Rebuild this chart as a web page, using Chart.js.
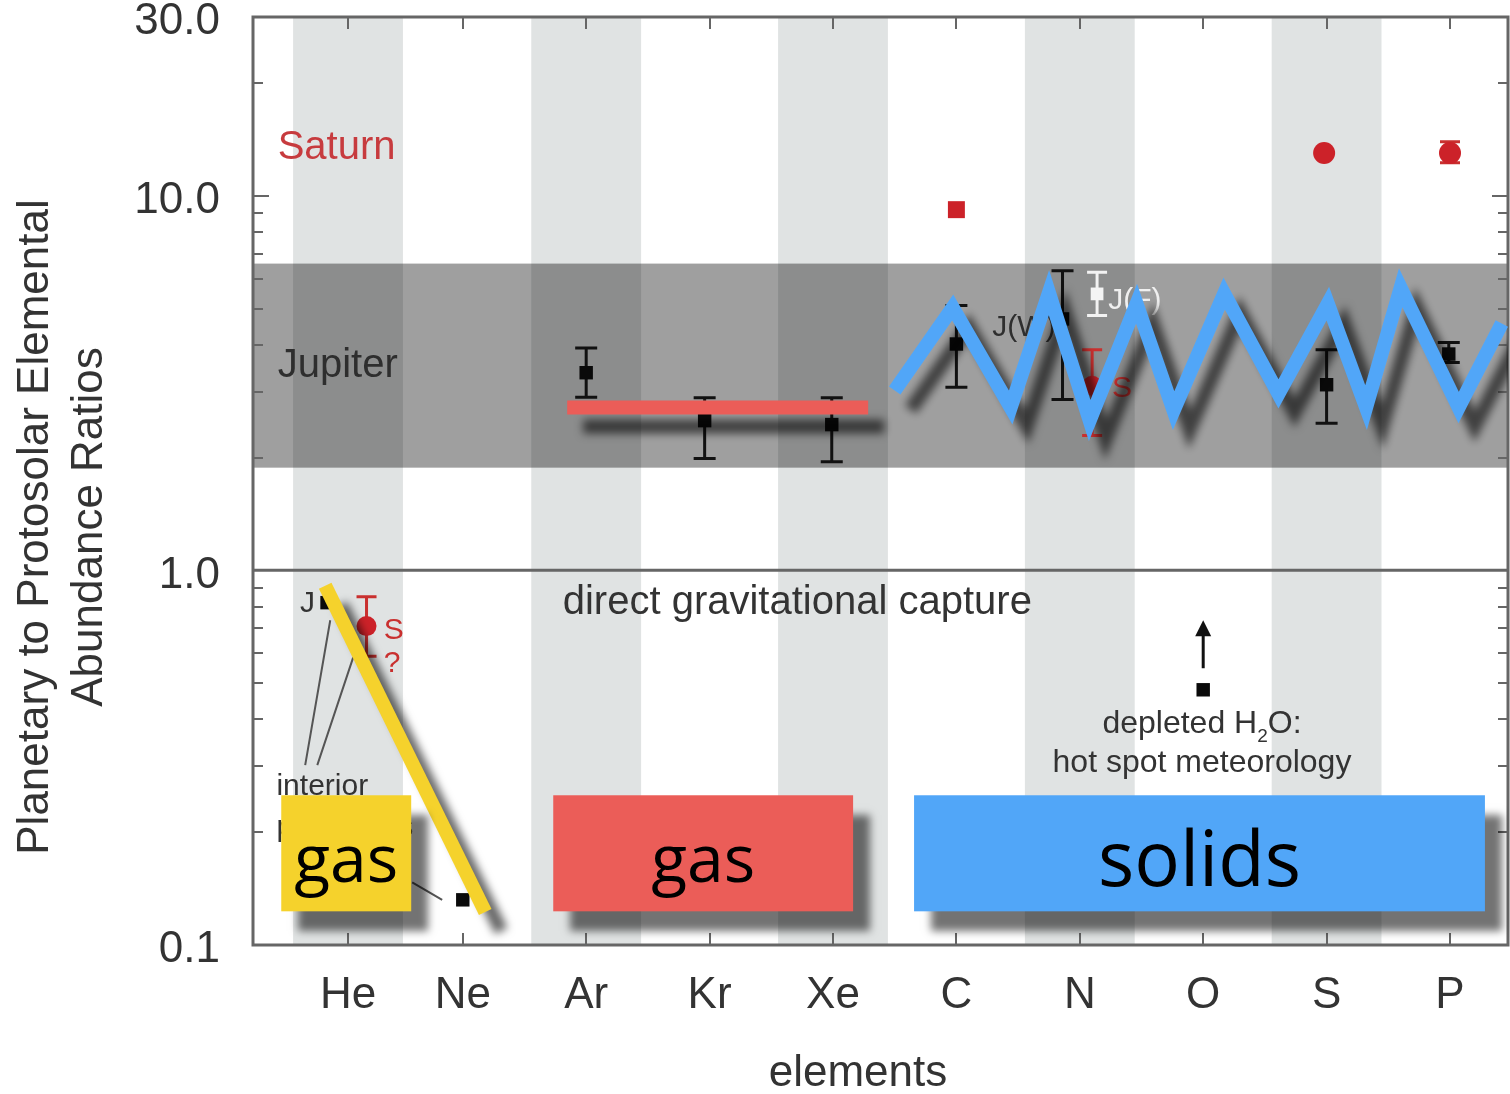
<!DOCTYPE html>
<html>
<head>
<meta charset="utf-8">
<script src="https://cdn.jsdelivr.net/npm/chart.js@4.4.1/dist/chart.umd.min.js"></script>
<style>
  html, body { margin: 0; padding: 0; background: #fff; }
  #wrap { width: 1510px; height: 1094px; }
</style>
</head>
<body>
<div id="wrap"><canvas id="chart" width="1510" height="1094"></canvas></div>
<script>
// ---- categories and axis ticks ----
const elements    = ['He', 'Ne', 'Ar', 'Kr', 'Xe', 'C', 'N', 'O', 'S', 'P'];
const elementSlot = [0.07, 1, 2, 3, 4, 5, 6, 7, 8, 9];
const yTickValues = [0.1, 1, 10, 30];

// ---- Jupiter abundances (relative to protosolar) ----
const jupiterX  = [-0.10, 1.00, 2.00, 2.96, 3.99, 5.00, 5.86, 7.00, 8.00, 8.99];
const jupiterY  = [0.82, 0.132, 3.37, 2.51, 2.45, 4.02, 4.69, 0.48, 3.13, 3.78];
const jupiterLo = [null, null, 2.90, 1.99, 1.95, 3.08, 2.86, null, 2.47, 3.59];
const jupiterHi = [null, null, 3.92, 2.89, 2.89, 5.09, 6.31, null, 3.88, 4.06];

// second Jupiter nitrogen determination, J(F)
const jupiterFX  = [6.14];
const jupiterFY  = [5.47];
const jupiterFLo = [4.79];
const jupiterFHi = [6.25];

// ---- Saturn abundances ----
const saturnX  = [0.22, 5.00, 6.10, 7.98, 9.00];
const saturnY  = [0.71, 9.18, 3.11, 13.0, 13.0];
const saturnLo = [0.59, null, 2.29, null, 12.25];
const saturnHi = [0.85, null, 3.88, null, 13.93];

// range of typical Jupiter enrichment
const jupiterBand = [1.88, 6.59];

// ---- highlighted groupings drawn over the plot ----
const gasLineX    = [1.846, 4.285];
const gasLineY    = [2.72, 2.72];
const solidsZigX  = [4.50, 4.97, 5.44, 5.75, 6.08, 6.46, 6.76, 7.17, 7.61, 8.01, 8.32, 8.60, 9.07, 9.42];
const solidsZigY  = [3.02, 5.03, 2.72, 5.51, 2.51, 5.15, 2.67, 5.48, 2.96, 5.15, 2.72, 5.68, 2.72, 4.56];
const heliumLineX = [-0.115, 1.182];
const heliumLineY = [0.91, 0.1225];

const groupLabels = ['gas', 'gas', 'solids'];
const groupFrom   = [-0.471, 1.733, 4.657];
const groupTo     = [0.582, 4.163, 9.283];
const groupColors = ['#f5d22c', '#eb5d58', '#51a6f8'];
const groupFont   = [66, 66, 76];
const groupTop = 0.251, groupBottom = 0.123;

const TEXT = '#333';
const RED = '#c9302f';
const SANS = '"Liberation Sans", Arial, sans-serif';

const notes = [
  { t: 'Saturn', x: -0.50, y: 13.4, size: 40, color: '#c73b3e' },
  { t: 'Jupiter', x: -0.50, y: 3.52, size: 40, color: '#2e2e2e' },
  { t: 'direct gravitational capture', x: 1.81, y: 0.817, size: 40, color: TEXT },
  { t: 'hot spot meteorology', x: 6.99, y: 0.306, size: 32, color: TEXT, align: 'center' },
  { t: 'J(W)', x: 5.29, y: 4.45, size: 30, color: '#2e2e2e' },
  { t: 'J(F)', x: 6.23, y: 5.25, size: 30, color: '#f0f0f0' },
  { t: 'S', x: 6.26, y: 3.05, size: 30, color: RED },
  { t: 'J', x: -0.32, y: 0.817, size: 30, color: TEXT },
  { t: 'S', x: 0.36, y: 0.692, size: 30, color: RED },
  { t: '?', x: 0.36, y: 0.565, size: 30, color: RED },
  { t: 'interior', x: -0.51, y: 0.264, size: 30, color: TEXT },
  { t: 'processes', x: -0.51, y: 0.205, size: 30, color: TEXT }
];
const leaderLines = [
  [[-0.277, 0.302], [-0.074, 0.736]],
  [[-0.179, 0.302], [0.112, 0.586]],
  [[0.590, 0.147], [0.833, 0.132]]
];
const waterArrow = { x: 7.0, from: 0.548, to: 0.736 };

const STRIPE_HALF = 0.445;
const minorTicks = [0.2, 0.3, 0.4, 0.5, 0.6, 0.7, 0.8, 0.9, 2, 3, 4, 5, 6, 7, 8, 9, 20];
const majorTicks = [1, 10];

const toPoints = (xs, ys) => xs.map((x, i) => ({ x, y: ys[i] }));

function drawErrorBars(chart, index) {
  const ds = chart.data.datasets[index];
  const meta = chart.getDatasetMeta(index);
  const y = chart.scales.y;
  const ctx = chart.ctx;
  ctx.save();
  ctx.strokeStyle = ds.errColor;
  ctx.lineWidth = 3;
  ds.errLo.forEach((lo, i) => {
    const hi = ds.errHi[i];
    if (lo == null || hi == null) return;
    const px = meta.data[i].x;
    const pl = y.getPixelForValue(lo), ph = y.getPixelForValue(hi);
    const cap = ds.errCap;
    ctx.beginPath();
    ctx.moveTo(px, pl); ctx.lineTo(px, ph);
    ctx.moveTo(px - cap, pl); ctx.lineTo(px + cap, pl);
    ctx.moveTo(px - cap, ph); ctx.lineTo(px + cap, ph);
    ctx.stroke();
  });
  ctx.restore();
}

const layers = {
  id: 'layers',
  beforeDatasetsDraw(chart) {
    const { ctx, chartArea: a, scales: { x, y } } = chart;
    ctx.save();
    // alternating element columns
    ctx.fillStyle = '#e0e3e3';
    [0, 2, 4, 6, 8].forEach(i => {
      const l = x.getPixelForValue(elementSlot[i] - STRIPE_HALF);
      const r = x.getPixelForValue(elementSlot[i] + STRIPE_HALF);
      ctx.fillRect(l, a.top, r - l, a.bottom - a.top);
    });
    // Jupiter enrichment band
    const bt = y.getPixelForValue(jupiterBand[1]), bb = y.getPixelForValue(jupiterBand[0]);
    ctx.fillStyle = 'rgba(0,0,0,0.375)';
    ctx.fillRect(a.left, bt, a.right - a.left, bb - bt);

    // frame, unity line and ticks
    ctx.strokeStyle = '#666';
    ctx.lineWidth = 3;
    ctx.strokeRect(a.left, a.top, a.right - a.left, a.bottom - a.top);
    const one = y.getPixelForValue(1);
    ctx.beginPath(); ctx.moveTo(a.left, one); ctx.lineTo(a.right, one); ctx.stroke();
    ctx.lineWidth = 2;
    ctx.beginPath();
    minorTicks.forEach(v => {
      const p = Math.round(y.getPixelForValue(v));
      ctx.moveTo(a.left, p); ctx.lineTo(a.left + 10, p);
      ctx.moveTo(a.right, p); ctx.lineTo(a.right - 10, p);
    });
    majorTicks.forEach(v => {
      const p = Math.round(y.getPixelForValue(v));
      ctx.moveTo(a.left, p); ctx.lineTo(a.left + 16, p);
      ctx.moveTo(a.right, p); ctx.lineTo(a.right - 16, p);
    });
    elementSlot.forEach(v => {
      const p = Math.round(x.getPixelForValue(v));
      ctx.moveTo(p, a.top); ctx.lineTo(p, a.top + 12);
      ctx.moveTo(p, a.bottom); ctx.lineTo(p, a.bottom - 12);
    });
    ctx.stroke();

    // annotation text
    ctx.textBaseline = 'middle';
    notes.forEach(n => {
      ctx.font = n.size + 'px ' + SANS;
      ctx.fillStyle = n.color;
      ctx.textAlign = n.align || 'left';
      ctx.fillText(n.t, x.getPixelForValue(n.x), y.getPixelForValue(n.y));
    });
    // "depleted H2O:" with a subscript 2
    {
      const cx = x.getPixelForValue(6.99), cy = y.getPixelForValue(0.388);
      ctx.textAlign = 'left';
      const big = '32px ' + SANS, small = '19px ' + SANS;
      ctx.font = big;
      const w1 = ctx.measureText('depleted H').width, w3 = ctx.measureText('O:').width;
      ctx.font = small;
      const w2 = ctx.measureText('2').width;
      let px = cx - (w1 + w2 + w3) / 2;
      ctx.fillStyle = TEXT;
      ctx.font = big; ctx.fillText('depleted H', px, cy); px += w1;
      ctx.font = small; ctx.fillText('2', px, cy + 12); px += w2;
      ctx.font = big; ctx.fillText('O:', px, cy);
    }
    // leader lines from the interior-processes note
    ctx.strokeStyle = '#555';
    ctx.lineWidth = 2;
    ctx.beginPath();
    leaderLines.forEach(([p, q]) => {
      ctx.moveTo(x.getPixelForValue(p[0]), y.getPixelForValue(p[1]));
      ctx.lineTo(x.getPixelForValue(q[0]), y.getPixelForValue(q[1]));
    });
    ctx.stroke();
    // lower-limit arrow for oxygen
    {
      const ax = x.getPixelForValue(waterArrow.x);
      const a0 = y.getPixelForValue(waterArrow.from), a1 = y.getPixelForValue(waterArrow.to);
      ctx.strokeStyle = '#111'; ctx.fillStyle = '#111'; ctx.lineWidth = 3;
      ctx.beginPath(); ctx.moveTo(ax, a0); ctx.lineTo(ax, a1 + 12); ctx.stroke();
      ctx.beginPath(); ctx.moveTo(ax, a1); ctx.lineTo(ax - 8, a1 + 16); ctx.lineTo(ax + 8, a1 + 16); ctx.closePath(); ctx.fill();
    }
    ctx.restore();
  },
  beforeDatasetDraw(chart, args) {
    const ds = chart.data.datasets[args.index];
    if (ds.errLo) drawErrorBars(chart, args.index);
    if (ds.dropShadow) {
      const c = chart.ctx;
      c.save();
      c.shadowColor = 'rgba(0,0,0,0.6)';
      c.shadowBlur = 8;
      c.shadowOffsetX = 16;
      c.shadowOffsetY = 19;
    }
  },
  afterDatasetDraw(chart, args) {
    if (chart.data.datasets[args.index].dropShadow) chart.ctx.restore();
  },
  afterDatasetsDraw(chart) {
    const { ctx, scales: { x, y } } = chart;
    const t = y.getPixelForValue(groupTop), b = y.getPixelForValue(groupBottom);
    groupLabels.forEach((label, i) => {
      const l = x.getPixelForValue(groupFrom[i]), r = x.getPixelForValue(groupTo[i]);
      ctx.save();
      ctx.shadowColor = 'rgba(0,0,0,0.55)';
      ctx.shadowBlur = 8;
      ctx.shadowOffsetX = 17;
      ctx.shadowOffsetY = 20;
      ctx.fillStyle = groupColors[i];
      ctx.fillRect(l, t, r - l, b - t);
      ctx.restore();
      ctx.save();
      ctx.fillStyle = '#000';
      ctx.font = groupFont[i] + 'px "Open Sans", sans-serif';
      ctx.textAlign = 'center';
      ctx.textBaseline = 'alphabetic';
      ctx.fillText(label, (l + r) / 2, (t + b) / 2 + 0.43 * groupFont[i]);
      ctx.restore();
    });
  },
  afterDraw(chart) {
    const { ctx } = chart;
    ctx.save();
    ctx.fillStyle = TEXT;
    ctx.font = '44px ' + SANS;
    ctx.textAlign = 'center';
    ctx.textBaseline = 'middle';
    ctx.fillText('elements', 858, 1074);
    ctx.translate(0, 527);
    ctx.rotate(-Math.PI / 2);
    ctx.fillText('Planetary to Protosolar Elemental', 0, 36);
    ctx.fillText('Abundance Ratios', 0, 90);
    ctx.restore();
  }
};

const chart = new Chart(document.getElementById('chart'), {
  type: 'scatter',
  data: {
    datasets: [
      {
        label: 'Jupiter', data: toPoints(jupiterX, jupiterY),
        errLo: jupiterLo, errHi: jupiterHi, errColor: '#111', errCap: 11,
        pointStyle: 'rect', pointRadius: 9.5, backgroundColor: '#0a0a0a', borderWidth: 0, order: 5
      },
      {
        label: 'Jupiter (F)', data: toPoints(jupiterFX, jupiterFY),
        errLo: jupiterFLo, errHi: jupiterFHi, errColor: '#f2f2f2', errCap: 10,
        pointStyle: 'rect', pointRadius: 9, backgroundColor: '#f4f4f4', borderWidth: 0, order: 5
      },
      {
        label: 'Saturn', data: toPoints(saturnX, saturnY),
        errLo: saturnLo, errHi: saturnHi, errColor: RED, errCap: 10,
        pointStyle: ['circle', 'rect', 'circle', 'circle', 'circle'],
        pointRadius: [10, 12, 10, 11, 11], backgroundColor: '#cc2229', borderWidth: 0, order: 5
      },
      {
        type: 'line', label: 'noble gases', data: toPoints(gasLineX, gasLineY),
        borderColor: '#eb5d58', borderWidth: 14, borderCapStyle: 'butt',
        pointRadius: 0, tension: 0, fill: false, dropShadow: true, order: 2
      },
      {
        type: 'line', label: 'ices', data: toPoints(solidsZigX, solidsZigY),
        borderColor: '#51a6f8', borderWidth: 14, borderCapStyle: 'butt', borderJoinStyle: 'miter',
        pointRadius: 0, tension: 0, fill: false, dropShadow: true, order: 1
      },
      {
        type: 'line', label: 'helium', data: toPoints(heliumLineX, heliumLineY),
        borderColor: '#f5d22c', borderWidth: 14, borderCapStyle: 'butt',
        pointRadius: 0, tension: 0, fill: false, dropShadow: true, order: 1
      }
    ]
  },
  options: {
    responsive: false,
    animation: false,
    devicePixelRatio: 1,
    events: [],
    layout: { autoPadding: false, padding: { top: 17, right: 2, left: 0, bottom: 0 } },
    plugins: { legend: { display: false }, tooltip: { enabled: false } },
    scales: {
      x: {
        type: 'linear', min: -0.7, max: 9.47,
        afterBuildTicks: s => { s.ticks = elementSlot.map(v => ({ value: v })); },
        afterFit: s => { s.height = 149; s.paddingLeft = 0; s.paddingRight = 0; },
        ticks: {
          callback: (v, i) => elements[i],
          autoSkip: false, maxRotation: 0, padding: 16,
          color: TEXT, font: { family: SANS, size: 44 }
        },
        grid: { display: false }, border: { display: false }
      },
      y: {
        type: 'logarithmic', min: 0.1, max: 30,
        afterBuildTicks: s => { s.ticks = yTickValues.map(v => ({ value: v })); },
        afterFit: s => { s.width = 253; s.paddingTop = 0; s.paddingBottom = 0; },
        ticks: {
          callback: v => Number(v).toFixed(1),
          padding: 25, labelOffset: 5,
          color: TEXT, font: { family: SANS, size: 44 }
        },
        grid: { display: false }, border: { display: false }
      }
    }
  },
  plugins: [layers]
});
</script>
</body>
</html>
